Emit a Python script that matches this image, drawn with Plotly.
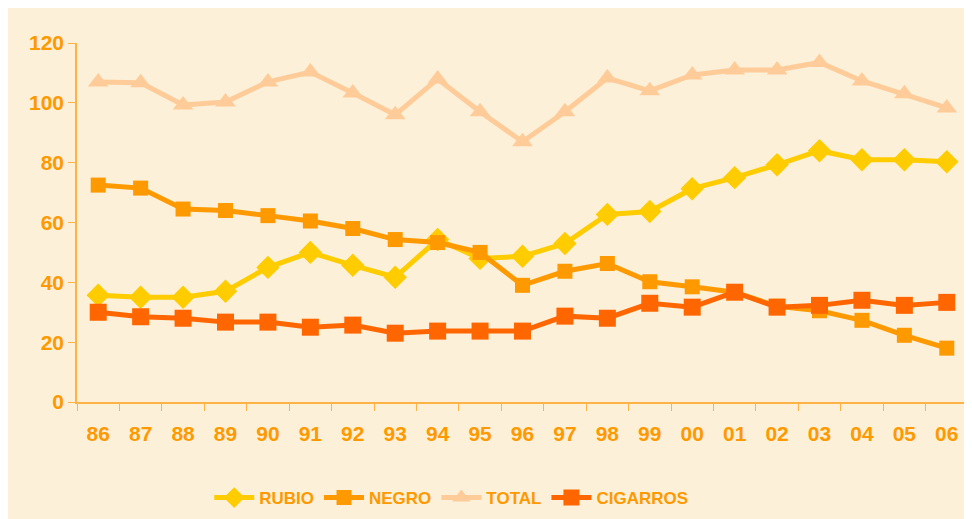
import plotly.graph_objects as go

years = ["86","87","88","89","90","91","92","93","94","95","96","97","98","99","00","01","02","03","04","05","06"]
rubio = [35.7,35,35,37,45,50,45.7,41.7,54.3,48,48.7,53,62.7,63.7,71.3,75,79.3,84,81,81,80.3]
negro = [72.5,71.5,64.5,64,62.3,60.5,58,54.3,53.3,50,39,43.7,46.3,40.2,38.5,36.7,32,30.5,27.3,22.3,18]
total = [107,106.7,99.3,100.3,107,110.3,103.3,96,108,97,87,97,108.3,104,109.3,111,111,113.5,107.3,103,98.3]
cigarros = [30,28.5,28,26.7,26.7,25,25.7,23,23.7,23.7,23.7,28.7,28,33,31.7,36.7,31.7,32.3,34,32.3,33.3]

series = [
    ("RUBIO", rubio, "#FFCC00", "diamond", 18),
    ("NEGRO", negro, "#FF9900", "square", 15),
    ("TOTAL", total, "#FFCC99", "triangle-up", 18),
    ("CIGARROS", cigarros, "#FF6600", "square", 17),
]

fig = go.Figure()
for name, vals, col, sym, sz in series:
    fig.add_trace(go.Scatter(
        x=years, y=vals, name=name, mode="lines+markers",
        line=dict(color=col, width=5),
        marker=dict(symbol=sym, size=sz, color=col),
    ))

orange = "#FF9900"
fig.update_layout(
    width=972, height=519,
    margin=dict(l=69, r=12, t=35, b=124),
    paper_bgcolor="#FCF0D8",
    plot_bgcolor="rgba(0,0,0,0)",
    font=dict(family="Arial, Liberation Sans, sans-serif", color=orange),
    showlegend=True,
    legend=dict(orientation="h", x=0.42, xanchor="center", y=-0.264, yanchor="middle",
                font=dict(size=17, color=orange, weight="bold",
                          family="Liberation Sans Narrow, Arial Narrow, Arial"),
                bgcolor="rgba(0,0,0,0)", itemwidth=40, tracegroupgap=0),
)
fig.update_xaxes(
    type="category", range=[-0.5, 20.5],
    showline=True, linecolor="#FFB347", linewidth=1.5,
    ticks="outside", tickson="boundaries", ticklen=7, tickcolor="#FFB347",
    showgrid=False, zeroline=False,
    tickfont=dict(size=21, color=orange, weight="bold", family="Arial, Liberation Sans"),
    ticklabelstandoff=12,
)
fig.update_yaxes(
    range=[0, 120], tickvals=[0,20,40,60,80,100,120],
    showline=True, linecolor="#FFB347", linewidth=1.5,
    ticks="outside", ticklen=7, tickcolor="#FFB347",
    showgrid=False, zeroline=False,
    tickfont=dict(size=21, color=orange, weight="bold", family="Arial, Liberation Sans"),
)
fig.write_html("out.html")
